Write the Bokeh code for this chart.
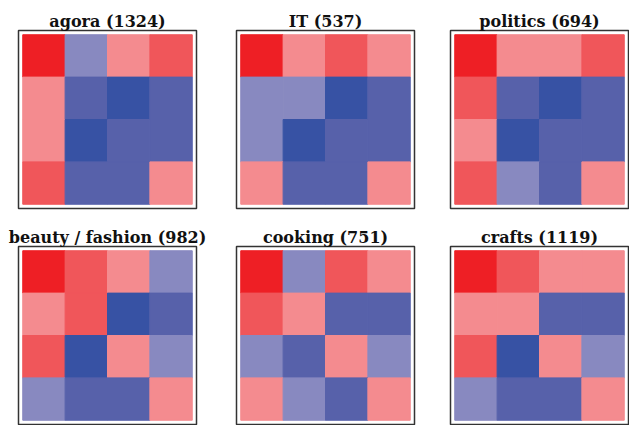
from bokeh.plotting import figure
from bokeh.layouts import column, row
from bokeh.models import Range1d, LinearColorMapper, ColumnDataSource
from bokeh.embed import file_html
from bokeh.resources import INLINE

# Levels: 3 strong red ... -3 strong blue
titles = ["agora (1324)", "IT (537)", "politics (694)",
          "beauty / fashion (982)", "cooking (751)", "crafts (1119)"]

agora = [[3, -1, 1, 2],
         [1, -2, -3, -2],
         [1, -3, -2, -2],
         [2, -2, -2, 1]]
it = [[3, 1, 2, 1],
      [-1, -1, -3, -2],
      [-1, -3, -2, -2],
      [1, -2, -2, 1]]
politics = [[3, 1, 1, 2],
            [2, -2, -3, -2],
            [1, -3, -2, -2],
            [2, -1, -2, 1]]
beauty = [[3, 2, 1, -1],
          [1, 2, -3, -2],
          [2, -3, 1, -1],
          [-1, -2, -2, 1]]
cooking = [[3, -1, 2, 1],
           [2, 1, -2, -2],
           [-1, -2, 1, -1],
           [1, -1, -2, 1]]
crafts = [[3, 2, 1, 1],
          [1, 1, -2, -2],
          [2, -3, 1, -1],
          [-1, -2, -2, 1]]

matrices = [agora, it, politics, beauty, cooking, crafts]

palette = ["#3752a4", "#5761aa", "#8889c0", "#ffffff", "#f48b8f", "#f0565a", "#ee1f25"]
mapper = LinearColorMapper(palette=palette, low=-3.5, high=3.5)

FW, FH = 178, 178
borders_lr = [(18, 20), (20, 18), (18, 1)]
borders_tb = [(30, 16), (22, 1)]

figs = []
for k, (t, m) in enumerate(zip(titles, matrices)):
    r, c = divmod(k, 3)
    xs, ys, vs = [], [], []
    for i, rowv in enumerate(m):
        for j, v in enumerate(rowv):
            xs.append(j + 0.5)
            ys.append(3.5 - i)
            vs.append(v)
    src = ColumnDataSource(dict(x=xs, y=ys, v=vs))
    p = figure(output_backend="svg", toolbar_location=None,
               frame_width=FW, frame_height=FH,
               x_range=Range1d(-0.1, 4.1), y_range=Range1d(-0.1, 4.1),
               min_border_left=borders_lr[c][0], min_border_right=borders_lr[c][1],
               min_border_top=borders_tb[r][0], min_border_bottom=borders_tb[r][1],
               title=t)
    p.rect(x="x", y="y", width=1, height=1, source=src,
           fill_color={"field": "v", "transform": mapper},
           line_color={"field": "v", "transform": mapper}, line_width=1)
    p.axis.visible = False
    p.grid.visible = False
    p.outline_line_color = "#333333"
    p.outline_line_width = 1.5
    p.title.text_font = "DejaVu Serif"
    p.title.text_font_style = "bold"
    p.title.text_font_size = "16px"
    p.title.align = "center"
    p.title.text_color = "#111111"
    p.title.standoff = 0
    p.title.offset = 0
    figs.append(p)

layout = column(row(*figs[:3]), row(*figs[3:]))
open("out.html", "w").write(file_html(layout, INLINE))
